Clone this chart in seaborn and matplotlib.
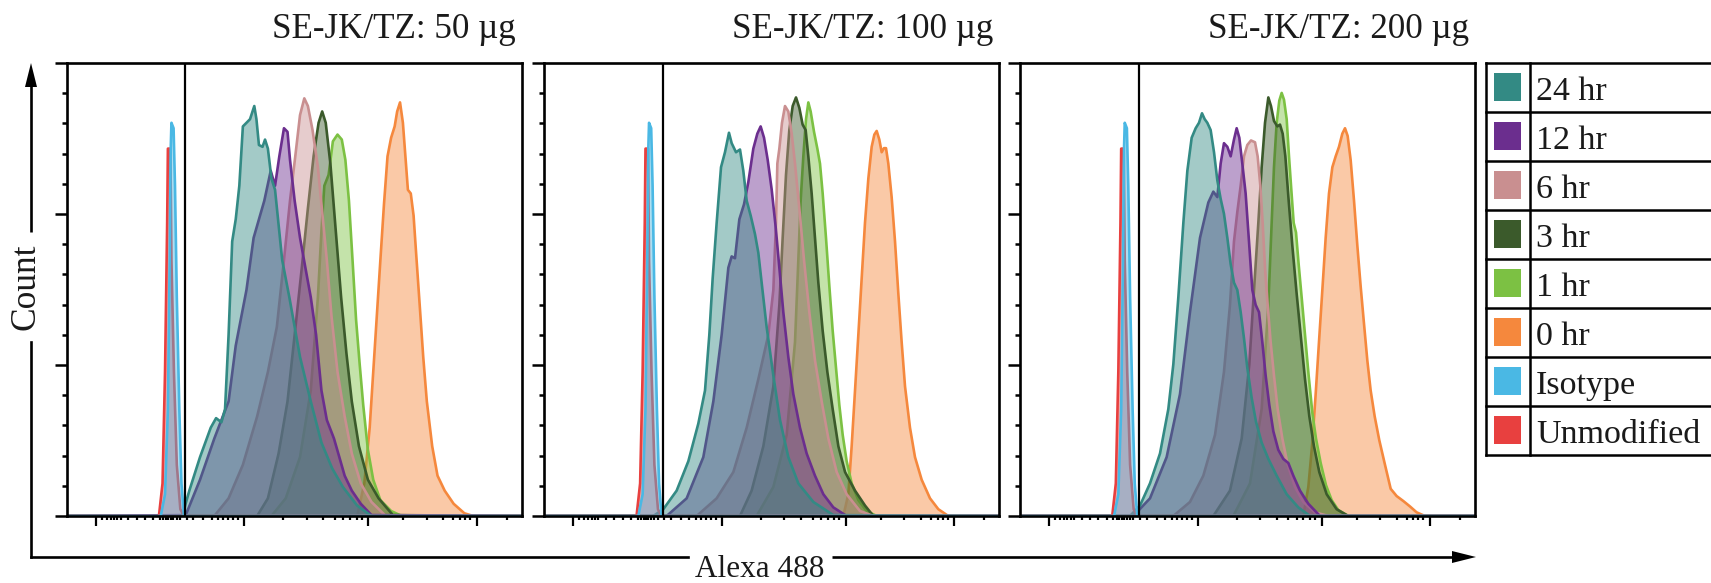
import matplotlib
matplotlib.use("Agg")
import matplotlib.pyplot as plt
from matplotlib.patches import Polygon, Rectangle
import pandas as pd
import seaborn as sns

# ---------------------------------------------------------------------------
# Histogram outlines: x on the display channel scale (0-1000 across the plot),
# y as percent of the count axis (0-100).
# ---------------------------------------------------------------------------
SERIES = ["24 hr", "12 hr", "6 hr", "3 hr", "1 hr", "0 hr", "Isotype", "Unmodified"]
DOSES = ["50", "100", "200"]
TITLES = ["SE-JK/TZ: 50 µg", "SE-JK/TZ: 100 µg", "SE-JK/TZ: 200 µg"]

# controls (identical in every panel)
x_unmodified = [0, 202.7, 210.6, 216.1, 220.8, 222.4, 227.9, 230.2, 235.7, 242.0, 249.8, 257.7, 1000]
y_unmodified = [0, 0, 7.2, 31.8, 64.7, 81.1, 81.1, 56.5, 31.8, 11.3, 1.5, 0, 0]
x_isotype = [0, 206.7, 216.1, 222.4, 226.3, 228.6, 230.2, 234.9, 238.0, 242.0, 247.5, 252.2, 257.7, 1000]
y_isotype = [0, 0, 4.8, 23.6, 56.5, 81.1, 86.8, 85.6, 72.9, 48.3, 23.6, 7.2, 0, 0]

# 50 ug
x_50_24hr = [0, 253.8, 269.5, 293.0, 316.6, 328.3, 340.1, 348.0, 355.8, 363.7, 371.5, 379.4, 387.2, 395.1, 402.9,
             412.3, 417.0, 422.5, 430.4, 435.9, 442.2, 450.0, 457.9, 473.6, 489.3, 512.8, 536.4, 559.9, 583.5,
             607.0, 638.4, 669.8, 1000]
y_50_24hr = [0, 0, 5.6, 13.0, 19.5, 21.6, 20.7, 23.6, 40.0, 60.6, 65.5, 72.9, 86.0, 86.8, 87.6, 90.5, 87.6, 81.9,
             81.5, 83.1, 81.1, 74.5, 72.0, 56.5, 48.3, 35.1, 25.3, 16.2, 10.5, 6.4, 2.3, 0, 0]
x_50_12hr = [0, 261.6, 293.0, 324.4, 355.8, 371.5, 395.1, 410.8, 434.3, 448.4, 457.9, 467.3, 477.5, 485.3, 490.8,
             501.0, 512.8, 524.6, 536.4, 548.1, 559.9, 571.7, 587.4, 599.2, 610.9, 626.6, 646.3, 669.8, 1000]
y_50_12hr = [0, 0.2, 8.0, 17.1, 25.3, 37.6, 49.9, 61.4, 69.6, 76.2, 72.9, 79.4, 85.6, 84.8, 78.6, 69.6, 61.4, 54.8,
             48.3, 40.0, 27.7, 21.2, 17.1, 13.0, 8.9, 5.6, 2.7, 0.2, 0]
x_50_6hr = [0, 324.4, 355.8, 387.2, 418.6, 442.2, 461.8, 477.5, 490.8, 503.4, 512.8, 522.2, 530.1, 540.3, 552.1,
            562.3, 571.7, 581.9, 595.2, 610.9, 626.6, 646.3, 669.8, 701.2, 1000]
y_50_6hr = [0, 0, 3.9, 11.3, 22.0, 31.8, 41.7, 56.5, 69.6, 80.3, 88.5, 92.2, 90.5, 85.2, 77.0, 66.3, 56.5, 44.2,
            31.8, 22.0, 13.8, 7.2, 3.1, 0, 0]
x_50_3hr = [0, 418.6, 442.2, 465.7, 485.3, 501.0, 516.7, 530.1, 542.6, 553.6, 561.5, 569.3, 579.5, 591.3, 603.1,
            614.8, 626.6, 642.3, 662.0, 685.5, 716.9, 1000]
y_50_3hr = [0, 0, 3.9, 13.8, 25.3, 40.0, 54.8, 67.9, 79.4, 86.8, 89.3, 86.8, 77.8, 63.0, 48.3, 35.9, 25.3, 15.4,
            8.0, 3.9, 0.2, 0]
x_50_1hr = [0, 450.0, 481.4, 512.8, 536.4, 552.1, 559.9, 566.2, 575.6, 585.0, 595.2, 604.6, 612.5, 620.3, 628.2,
            636.0, 643.9, 651.7, 662.0, 673.7, 689.4, 713.0, 736.5, 1000]
y_50_1hr = [0, 0, 3.9, 13.0, 27.7, 48.3, 63.0, 72.9, 75.3, 82.7, 84.2, 83.1, 78.6, 69.6, 56.5, 43.3, 33.5, 24.5,
            14.6, 8.0, 3.5, 1.1, 0, 0]
x_50_0hr = [0, 638.4, 654.1, 665.9, 673.7, 681.6, 689.4, 697.3, 705.1, 713.0, 720.8, 726.3, 732.6, 738.9, 744.4,
            749.9, 756.2, 762.4, 767.9, 775.8, 783.6, 791.5, 803.3, 815.0, 830.7, 850.4, 874.0, 893.6, 1000]
y_50_0hr = [0, 0, 7.2, 19.5, 31.8, 44.2, 56.5, 68.8, 79.4, 83.5, 86.0, 89.3, 91.3, 86.8, 79.4, 72.0, 71.2, 66.3,
            58.1, 46.6, 35.1, 25.3, 15.4, 8.9, 5.6, 2.7, 0.6, 0, 0]

# 100 ug
x_100_24hr = [0, 239.6, 261.6, 290.9, 316.6, 338.5, 353.2, 362.7, 370.0, 378.8, 388.4, 397.1, 405.9, 411.8, 421.3,
              430.1, 437.4, 444.8, 453.6, 463.1, 470.4, 477.7, 488.7, 503.4, 518.0, 536.3, 558.3, 591.3, 635.2, 1000]
y_100_24hr = [0, 0, 1.5, 5.6, 12.1, 20.4, 27.7, 40.0, 52.4, 64.7, 77.0, 80.3, 84.6, 82.3, 80.3, 80.9, 76.2, 69.6,
              66.3, 62.2, 58.1, 51.5, 41.7, 31.0, 21.2, 13.0, 7.2, 3.1, 0.2, 0]
x_100_12hr = [0, 268.9, 312.9, 349.5, 371.5, 389.8, 404.5, 411.8, 419.1, 428.7, 438.9, 448.4, 459.4, 468.2, 475.5,
              482.9, 491.0, 499.7, 508.5, 516.6, 525.3, 536.3, 547.3, 561.9, 576.6, 594.9, 613.3, 635.2, 664.5, 1000]
y_100_12hr = [0, 0, 3.9, 13.0, 25.3, 40.0, 54.8, 57.3, 56.9, 65.5, 68.8, 73.7, 81.1, 84.4, 86.0, 83.5, 78.6, 72.1,
              63.8, 54.8, 45.0, 35.1, 26.9, 19.5, 13.8, 8.9, 4.8, 1.9, 0, 0]
x_100_6hr = [0, 334.9, 378.8, 415.5, 444.8, 470.4, 492.4, 503.4, 509.2, 512.2, 516.6, 522.4, 529.0, 536.3, 543.7,
             551.0, 560.5, 570.8, 582.5, 595.0, 609.6, 624.3, 642.6, 664.5, 693.8, 723.2, 1000]
y_100_6hr = [0, 0, 3.9, 9.7, 19.5, 30.2, 40.0, 49.9, 64.7, 77.8, 81.1, 86.8, 90.5, 89.3, 84.4, 77.8, 67.9, 56.5,
             45.0, 34.3, 25.3, 17.1, 9.7, 4.8, 1.1, 0, 0]
x_100_3hr = [0, 430.1, 455.7, 481.4, 503.4, 516.6, 523.9, 531.2, 538.5, 545.9, 553.2, 560.5, 567.8, 574.4, 580.3,
             587.6, 594.9, 602.3, 611.8, 622.1, 633.8, 646.3, 661.0, 682.9, 704.9, 723.2, 1000]
y_100_3hr = [0, 0, 5.6, 15.4, 28.6, 46.6, 61.4, 75.3, 85.2, 90.5, 92.4, 90.1, 86.4, 85.2, 79.4, 71.2, 61.4, 51.5,
             40.9, 31.8, 23.6, 15.4, 9.7, 5.6, 2.3, 0, 0]
x_100_1hr = [0, 466.7, 503.4, 532.7, 551.0, 558.3, 563.4, 569.3, 575.2, 580.3, 585.4, 592.8, 600.1, 605.9, 611.8,
             619.1, 626.5, 633.8, 641.1, 648.4, 655.8, 664.5, 675.5, 690.2, 708.5, 730.5, 1000]
y_100_1hr = [0, 0, 6.4, 17.9, 38.4, 56.5, 69.6, 79.4, 87.6, 91.3, 89.3, 84.8, 81.1, 77.8, 71.2, 61.4, 50.7, 40.9,
             32.7, 24.5, 17.9, 12.1, 7.2, 3.5, 1.1, 0, 0]
x_100_0hr = [0, 657.2, 668.2, 675.5, 682.9, 690.2, 697.5, 704.8, 712.2, 719.5, 725.4, 730.5, 736.3, 741.5, 746.6,
             751.0, 756.1, 763.4, 770.8, 778.1, 785.4, 792.8, 803.7, 814.7, 829.4, 847.7, 866.0, 888.0, 1000]
y_100_0hr = [0, 0, 4.8, 15.4, 27.7, 40.0, 52.4, 64.7, 74.5, 81.5, 84.2, 85.0, 83.1, 80.3, 81.2, 81.2, 77.8, 70.4,
             60.6, 49.1, 38.4, 28.6, 19.5, 13.0, 8.0, 3.9, 1.5, 0, 0]

# 200 ug
x_200_24hr = [0, 241.7, 263.7, 285.7, 307.7, 326.0, 337.0, 348.0, 359.0, 367.8, 377.3, 386.1, 393.4, 400.0, 405.9,
              411.7, 419.0, 426.4, 433.7, 441.0, 448.3, 455.7, 463.0, 470.3, 477.6, 485.0, 492.3, 499.6, 509.1,
              518.7, 531.1, 545.8, 564.1, 586.1, 611.7, 637.4, 1000]
y_200_24hr = [0, 0, 2.3, 7.2, 13.8, 23.6, 33.5, 48.3, 64.7, 76.2, 83.5, 85.6, 86.8, 88.9, 87.6, 86.8, 85.2, 80.3,
              74.1, 70.0, 66.7, 61.4, 55.6, 51.5, 49.9, 45.0, 39.2, 32.7, 26.1, 20.8, 16.2, 12.6, 8.9, 4.8, 1.9, 0, 0]
x_200_12hr = [0, 249.1, 285.7, 322.3, 351.6, 373.6, 395.6, 413.9, 424.9, 433.7, 441.0, 448.3, 455.7, 463.0, 470.3,
              476.2, 482.0, 488.6, 495.9, 503.3, 510.6, 517.9, 525.3, 532.6, 539.9, 547.9, 556.8, 567.7, 578.7,
              589.7, 600.7, 615.4, 633.7, 659.3, 1000]
y_200_12hr = [0, 0, 3.9, 13.0, 26.9, 45.0, 61.4, 69.2, 71.6, 70.4, 77.8, 82.3, 81.5, 79.4, 83.1, 85.6, 83.5, 77.8,
              71.2, 60.6, 49.9, 46.6, 45.0, 38.4, 31.0, 24.5, 18.7, 14.6, 12.6, 11.7, 8.9, 5.6, 2.7, 0, 0]
x_200_6hr = [0, 337.0, 373.6, 402.9, 428.6, 448.3, 461.5, 470.3, 477.6, 485.0, 492.3, 499.6, 507.7, 516.5, 522.3,
             528.2, 533.3, 538.5, 544.3, 550.9, 558.2, 566.3, 576.6, 588.3, 604.4, 622.7, 648.3, 677.6, 1000]
y_200_6hr = [0, 0, 3.1, 8.9, 17.9, 31.8, 46.6, 60.6, 67.1, 72.9, 79.4, 81.9, 82.9, 82.5, 79.4, 72.9, 64.7, 54.8,
             46.6, 38.4, 31.0, 23.6, 17.1, 11.3, 6.4, 3.1, 0.8, 0, 0]
x_200_3hr = [0, 424.9, 461.5, 487.2, 504.0, 514.3, 523.8, 531.1, 538.5, 545.8, 551.6, 558.2, 565.6, 571.4, 577.3,
             583.2, 590.5, 598.5, 608.0, 617.6, 626.4, 635.9, 646.1, 657.8, 674.0, 695.9, 721.6, 1000]
y_200_3hr = [0, 0, 5.6, 17.1, 33.5, 49.9, 64.7, 77.0, 86.8, 92.4, 90.5, 87.2, 86.0, 86.4, 84.4, 79.4, 69.6, 59.7,
             49.1, 39.2, 30.2, 22.0, 15.4, 9.7, 4.8, 1.5, 0, 0]
x_200_1hr = [0, 468.9, 505.5, 531.1, 545.8, 553.1, 558.2, 564.1, 569.9, 575.1, 580.2, 586.1, 591.2, 596.3, 601.5,
             606.6, 612.4, 619.8, 627.1, 634.4, 642.5, 650.5, 660.8, 672.5, 685.0, 699.6, 721.6, 1000]
y_200_1hr = [0, 0, 7.2, 23.6, 46.6, 64.7, 77.0, 86.8, 91.7, 93.4, 91.9, 87.6, 79.4, 72.0, 64.7, 62.6, 55.6, 47.4,
             39.2, 31.0, 22.8, 17.1, 11.7, 6.8, 3.5, 1.3, 0, 0]
x_200_0hr = [0, 622.7, 633.7, 642.5, 649.8, 657.1, 664.5, 671.8, 679.1, 686.5, 693.8, 701.1, 708.4, 714.3, 720.1,
             726.7, 734.1, 741.4, 748.7, 756.0, 763.4, 770.7, 779.5, 789.7, 802.2, 814.7, 827.8, 842.5, 857.2,
             871.8, 890.1, 1000]
y_200_0hr = [0, 0, 6.4, 16.2, 26.9, 38.4, 49.9, 61.4, 71.2, 77.0, 79.4, 81.5, 84.4, 85.6, 83.9, 78.6, 69.6, 59.7,
             50.7, 42.5, 34.3, 27.7, 22.0, 16.7, 11.3, 6.0, 4.4, 3.3, 2.1, 0.8, 0, 0]

# axis scale: gate position and tick locations on the channel scale
GATE = 261.0
X_MAJOR = [63.7, 390.4, 662.9, 901.0]
X_MINOR = [76.8, 87.8, 96.6, 104.0, 111.0, 118.6, 135.4, 153.8, 172.0, 190.4, 205.0, 212.4, 218.4, 223.5, 228.7,
           234.4, 241.7, 249.0, 263.7, 278.3, 300.3, 318.6, 333.3, 344.3, 355.3, 366.3, 377.3, 476.1, 527.4,
           564.0, 589.7, 608.0, 622.7, 637.3, 648.3, 739.9, 791.1, 827.8, 849.7, 864.4, 875.4, 886.4, 967.0]

# ---------------------------------------------------------------------------
curves = {
    "50": {"24 hr": (x_50_24hr, y_50_24hr), "12 hr": (x_50_12hr, y_50_12hr), "6 hr": (x_50_6hr, y_50_6hr),
           "3 hr": (x_50_3hr, y_50_3hr), "1 hr": (x_50_1hr, y_50_1hr), "0 hr": (x_50_0hr, y_50_0hr)},
    "100": {"24 hr": (x_100_24hr, y_100_24hr), "12 hr": (x_100_12hr, y_100_12hr), "6 hr": (x_100_6hr, y_100_6hr),
            "3 hr": (x_100_3hr, y_100_3hr), "1 hr": (x_100_1hr, y_100_1hr), "0 hr": (x_100_0hr, y_100_0hr)},
    "200": {"24 hr": (x_200_24hr, y_200_24hr), "12 hr": (x_200_12hr, y_200_12hr), "6 hr": (x_200_6hr, y_200_6hr),
            "3 hr": (x_200_3hr, y_200_3hr), "1 hr": (x_200_1hr, y_200_1hr), "0 hr": (x_200_0hr, y_200_0hr)},
}
rows = []
for dose in DOSES:
    group = dict(curves[dose])
    group["Isotype"] = (x_isotype, y_isotype)
    group["Unmodified"] = (x_unmodified, y_unmodified)
    for series, (xs, ys) in group.items():
        assert len(xs) == len(ys), (dose, series)
        for i, (xv, yv) in enumerate(zip(xs, ys)):
            rows.append({"dose": dose, "series": series, "idx": i, "x": xv, "y": yv})
df = pd.DataFrame(rows)

PALETTE = {
    "24 hr": "#338a84",
    "12 hr": "#6b2e8e",
    "6 hr": "#c98f90",
    "3 hr": "#3b5a2b",
    "1 hr": "#7cc143",
    "0 hr": "#f5883d",
    "Isotype": "#4ab8e4",
    "Unmodified": "#e8403f",
}
DRAW_ORDER = ["0 hr", "1 hr", "3 hr", "6 hr", "12 hr", "24 hr", "Unmodified", "Isotype"]
FILL_ALPHA = 0.45

sns.set_theme(style="ticks")
plt.rcParams["font.family"] = ["Liberation Serif", "DejaVu Serif"]

W, H = 1711, 583
fig = plt.figure(figsize=(W / 100, H / 100), dpi=100)
fig.patch.set_facecolor("white")


def fig_x(px):
    return px / W


def fig_y(py):
    return 1 - py / H


PANEL_LEFT = [66.7, 544.3, 1020.0]
PANEL_W, PANEL_TOP, PANEL_BOTTOM = 455.0, 63.0, 516.0
FS = 24.5

for k, dose in enumerate(DOSES):
    left = PANEL_LEFT[k]
    ax = fig.add_axes([fig_x(left), fig_y(PANEL_BOTTOM), PANEL_W / W, (PANEL_BOTTOM - PANEL_TOP) / H])
    for j, series in enumerate(DRAW_ORDER):
        d = df[(df["dose"] == dose) & (df["series"] == series)].sort_values("idx")
        ax.fill_between(d["x"], d["y"], 0, color=PALETTE[series], alpha=FILL_ALPHA, lw=0, zorder=1.0 + 0.12 * j)
        sns.lineplot(data=d, x="x", y="y", color=PALETTE[series], sort=False, estimator=None,
                     linewidth=1.9, ax=ax, zorder=1.06 + 0.12 * j)
    ax.axvline(GATE, color="black", lw=1.6, zorder=3)
    ax.set_xlim(0, 1000)
    ax.set_ylim(0, 100)
    ax.set_xlabel("")
    ax.set_ylabel("")
    ax.set_xticks(X_MAJOR)
    ax.set_xticks(X_MINOR, minor=True)
    ax.set_yticks([0, 100 / 3, 200 / 3, 100])
    ax.set_yticks([v * 100 / 15 for v in range(16) if v % 5], minor=True)
    ax.tick_params(axis="both", which="both", labelbottom=False, labelleft=False, direction="out",
                   color="black", bottom=True, left=True, top=False, right=False)
    ax.tick_params(axis="y", which="major", length=8.5, width=1.8)
    ax.tick_params(axis="y", which="minor", length=3.8, width=1.8)
    ax.tick_params(axis="x", which="major", length=7.5, width=1.6)
    ax.tick_params(axis="x", which="minor", length=3.2, width=1.6)
    for sp in ax.spines.values():
        sp.set_visible(True)
        sp.set_linewidth(1.9)
        sp.set_color("black")
        sp.set_zorder(4)
    ax.set_facecolor("white")
    fig.text(fig_x(left + PANEL_W - 6), fig_y(38), TITLES[k], ha="right", va="baseline",
             fontsize=FS + 0.7, color="#1a1a1a")

# overlay in pixel coordinates: axis arrows and the legend table
ov = fig.add_axes([0, 0, 1, 1], zorder=-1)
ov.set_xlim(0, W)
ov.set_ylim(H, 0)
ov.axis("off")

AX_X, AX_Y = 31.0, 557.0
lw_arrow = 1.9
ov.plot([AX_X, AX_X], [AX_Y, 342], color="black", lw=lw_arrow, solid_capstyle="projecting")
ov.plot([AX_X, AX_X], [232, 84], color="black", lw=lw_arrow, solid_capstyle="butt")
ov.add_patch(Polygon([[AX_X, 63], [AX_X - 6, 87], [AX_X + 6, 87]], closed=True, color="black", lw=0))
ov.text(26, 287, "Count", rotation=90, ha="center", va="center", fontsize=FS + 1, color="#1a1a1a")

ov.plot([AX_X, 688], [AX_Y, AX_Y], color="black", lw=lw_arrow, solid_capstyle="projecting")
ov.plot([832, 1453], [AX_Y, AX_Y], color="black", lw=lw_arrow, solid_capstyle="butt")
ov.add_patch(Polygon([[1476, AX_Y], [1452, AX_Y - 6], [1452, AX_Y + 6]], closed=True, color="black", lw=0))
ov.text(760, 577, "Alexa 488", ha="center", va="baseline", fontsize=22.5, color="#1a1a1a")

LEG_L, LEG_DIV, LEG_TOP, ROW_H = 1486.0, 1530.0, 63.0, 49.0
lw_tab = 1.8
n = len(SERIES)
for r in range(n + 1):
    ov.plot([LEG_L, W + 5], [LEG_TOP + r * ROW_H] * 2, color="black", lw=lw_tab, solid_capstyle="projecting")
for xv in (LEG_L, LEG_DIV):
    ov.plot([xv, xv], [LEG_TOP, LEG_TOP + n * ROW_H], color="black", lw=lw_tab, solid_capstyle="projecting")
for r, series in enumerate(SERIES):
    top = LEG_TOP + r * ROW_H
    ov.add_patch(Rectangle((1494, top + 10), 27, 28, color=PALETTE[series], lw=0))
    ov.text(1536, top + 37, series, ha="left", va="baseline", fontsize=FS, color="#1a1a1a")

fig.savefig("out.png", dpi=100, facecolor="white")
